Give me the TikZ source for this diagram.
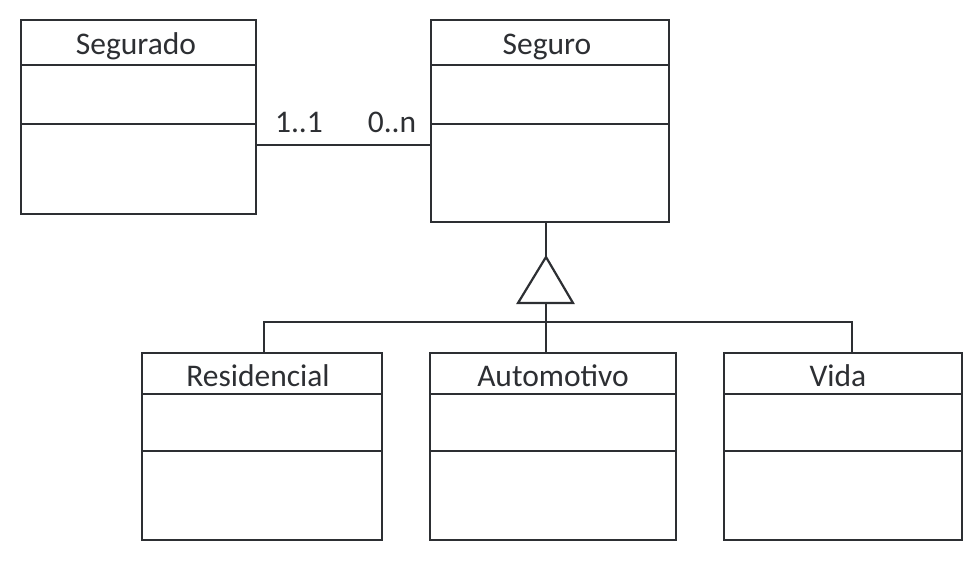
\documentclass[tikz,border=0pt]{standalone}
\usepackage{fontspec}
\setmainfont{Carlito}
\definecolor{ink}{HTML}{2D2F33}
\begin{document}
\begin{tikzpicture}[x=1pt,y=-1pt,line width=2.2pt,draw=ink,
  cls/.style={draw=ink,line width=2.2pt,rectangle,inner sep=0pt,anchor=north west},
  ttl/.style={font=\fontsize{31.5}{36}\selectfont,text=ink,anchor=base,inner sep=0pt},
  mult/.style={font=\fontsize{31.5}{36}\selectfont,text=ink,anchor=base,inner sep=0pt},
  conn/.style={draw=ink,line width=2.2pt}]
\useasboundingbox (0,0) rectangle (978,561);
% classes
\node[cls,minimum width=235pt,minimum height=194pt] (segurado) at (20,19) {};
\node[cls,minimum width=238pt,minimum height=202pt] (seguro) at (430,19) {};
\node[cls,minimum width=240pt,minimum height=187pt] (resid) at (141,352) {};
\node[cls,minimum width=246pt,minimum height=187pt] (auto) at (429,352) {};
\node[cls,minimum width=238pt,minimum height=187pt] (vida) at (723,352) {};
% compartments
\draw[conn] (segurado.west |- 0,65) -- (segurado.east |- 0,65);
\draw[conn] (segurado.west |- 0,124) -- (segurado.east |- 0,124);
\draw[conn] (seguro.west |- 0,65) -- (seguro.east |- 0,65);
\draw[conn] (seguro.west |- 0,124) -- (seguro.east |- 0,124);
\foreach \n in {resid,auto,vida}{
  \draw[conn] (\n.west |- 0,394) -- (\n.east |- 0,394);
  \draw[conn] (\n.west |- 0,451) -- (\n.east |- 0,451);
}
% titles
\node[ttl] (tSegurado) at (136,55) {Segurado};
\node[ttl] (tSeguro) at (547,55) {Seguro};
\node[ttl] (tResid) at (258,387) {Residencial};
\node[ttl] (tAuto) at (553,387) {Automotivo};
\node[ttl] (tVida) at (838,387) {Vida};
% association
\coordinate (aL) at (255,145);
\coordinate (aR) at (430,145);
\draw[conn] (aL) -- (aR);
\node[mult] (m1) at (299,133) {1..1};
\node[mult] (m2) at (392,133) {0..n};
% generalization
\coordinate (apex) at (546,257);
\coordinate (bL) at (518,303);
\coordinate (bR) at (573,303);
\coordinate (bM) at (546,303);
\coordinate (busL) at (264,322);
\coordinate (busR) at (852,322);
\coordinate (busM) at (546,322);
\draw[conn] (seguro.south -| apex) -- (apex);
\draw[conn,line join=miter] (apex) -- (bR) -- (bL) -- cycle;
\draw[conn] (bM) -- (auto.north -| bM);
\draw[conn] (resid.north -| busL) -- (busL) -- (busR) -- (vida.north -| busR);
\end{tikzpicture}
\end{document}
